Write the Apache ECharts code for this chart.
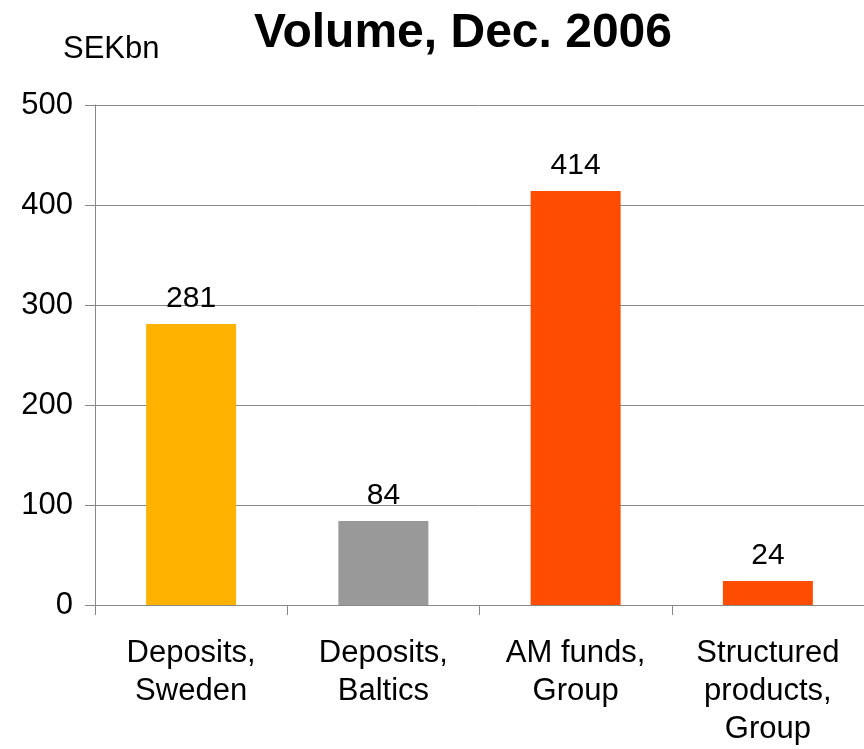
<!DOCTYPE html>
<html>
<head>
<meta charset="utf-8">
<script src="https://cdn.jsdelivr.net/npm/echarts@6/dist/echarts.min.js"></script>
<style>
  html, body { margin: 0; padding: 0; background: #fff; }
  #chart { width: 864px; height: 749px; }
</style>
</head>
<body>
<div id="chart"></div>
<script>
// Volumes at end of December 2006, SEK billions
const categories = ['Deposits,\nSweden', 'Deposits,\nBaltics', 'AM funds,\nGroup', 'Structured\nproducts,\nGroup'];
const volumes = [281, 84, 414, 24];
const barColors = ['#FFB300', '#999999', '#FF4D00', '#FF4D00'];
const yTicks = [0, 100, 200, 300, 400, 500];

const FONT = '"Liberation Sans", Arial, sans-serif';

const chart = echarts.init(document.getElementById('chart'), null, { renderer: 'canvas' });

chart.setOption({
  animation: false,
  backgroundColor: '#ffffff',
  title: [
    {
      text: 'Volume, Dec. 2006',
      left: 458,
      top: 5,
      textAlign: 'center',
      textStyle: { fontFamily: FONT, fontSize: 48, fontWeight: 'bold', color: '#000' }
    },
    {
      text: 'SEKbn',
      left: 58,
      top: 29,
      textStyle: { fontFamily: FONT, fontSize: 31, fontWeight: 'normal', color: '#000' }
    }
  ],
  grid: { left: 95, right: -6, top: 105, bottom: 144, containLabel: false },
  xAxis: {
    type: 'category',
    data: categories,
    axisLine: { lineStyle: { color: '#888888', width: 1 } },
    axisTick: { show: true, length: 10, alignWithLabel: false, lineStyle: { color: '#888888' } },
    axisLabel: {
      interval: 0,
      margin: 29,
      fontFamily: FONT,
      fontSize: 31,
      lineHeight: 38,
      color: '#000'
    },
    splitLine: { show: false }
  },
  yAxis: {
    type: 'value',
    min: yTicks[0],
    max: yTicks[yTicks.length - 1],
    interval: 100,
    axisLine: { show: true, lineStyle: { color: '#888888', width: 1 } },
    axisTick: { show: true, length: 10, lineStyle: { color: '#888888' } },
    axisLabel: {
      margin: 22,
      fontFamily: FONT,
      fontSize: 31,
      color: '#000',
      padding: [6, 0, 0, 0]
    },
    splitLine: { show: true, lineStyle: { color: '#888888', width: 1 } }
  },
  series: [{
    type: 'bar',
    data: volumes.map((v, i) => ({ value: v, itemStyle: { color: barColors[i] } })),
    barWidth: 90,
    label: {
      show: true,
      position: 'top',
      distance: 10,
      fontFamily: FONT,
      fontSize: 30,
      color: '#000'
    }
  }]
});
</script>
</body>
</html>
